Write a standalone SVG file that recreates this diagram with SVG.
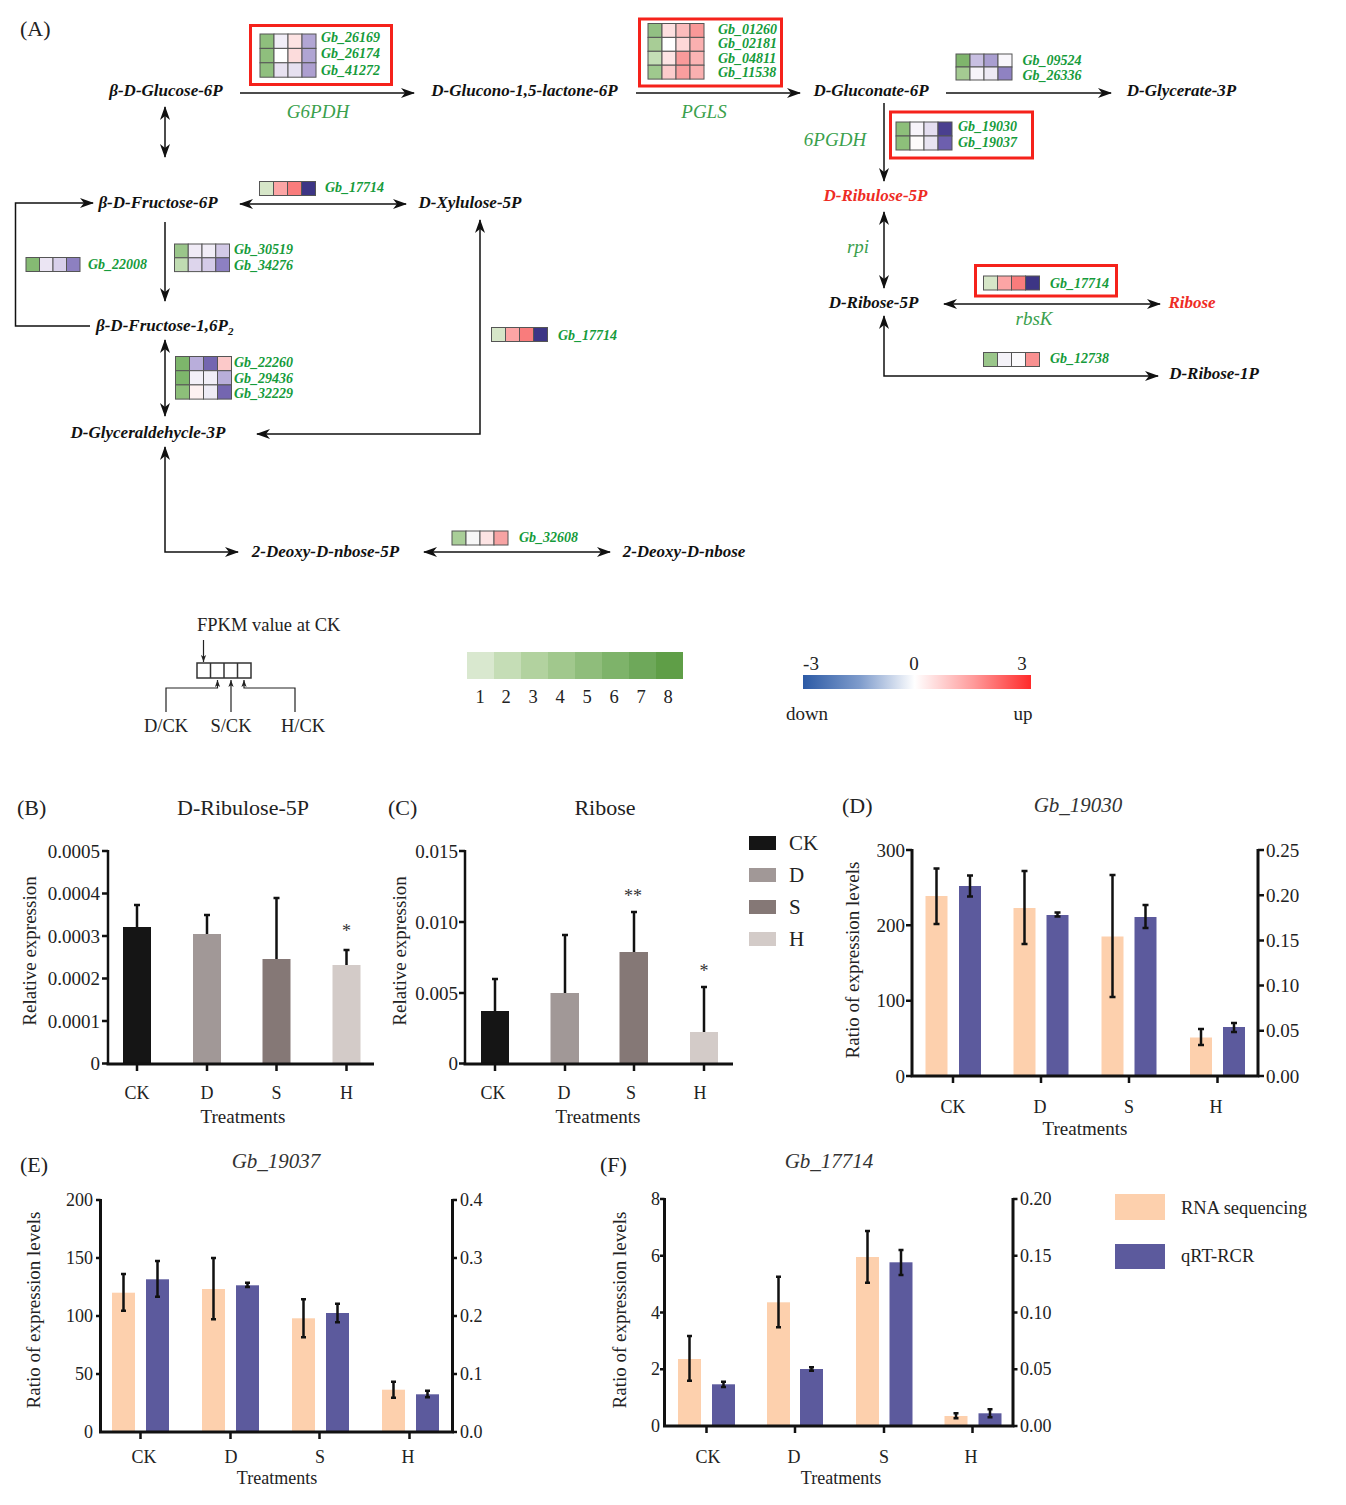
<svg xmlns="http://www.w3.org/2000/svg" width="1346" height="1505" viewBox="0 0 1346 1505">
<defs>
<style>
text{font-family:"Liberation Serif","Times New Roman",serif}
.node{font-weight:bold;font-style:italic;font-size:17px;fill:#111;text-anchor:middle}
.red{fill:#ee2b24}
.gene{font-weight:bold;font-style:italic;font-size:14px;fill:#169b3b}
.enz{font-style:italic;font-size:19px;fill:#3a9f4c;text-anchor:middle}
.ln{stroke:#111;stroke-width:1.5;fill:none}
.hm rect{stroke:#555;stroke-width:1}
.box{fill:none;stroke:#f5221b;stroke-width:3}
.lg{font-size:19px;fill:#222}
.tk{font-size:19px;fill:#222}
.ax{stroke:#111;stroke-width:2.5;fill:none}
.err{stroke:#111;stroke-width:2.5;fill:none}
.or{fill:#fdd0ad}
.bl{fill:#5c5a9d}
</style>
<marker id="ah" viewBox="0 0 14 10" refX="13" refY="5" markerWidth="14" markerHeight="10" markerUnits="userSpaceOnUse" orient="auto-start-reverse">
<path d="M0,0 L14,5 L0,10 L4,5 z" fill="#111"/>
</marker>
<marker id="sa" viewBox="0 0 8 6" refX="8" refY="3" markerWidth="7" markerHeight="6" markerUnits="userSpaceOnUse" orient="auto">
<path d="M0,0 L8,3 L0,6 L2,3 z" fill="#222"/>
</marker>
<linearGradient id="rb" x1="0" y1="0" x2="1" y2="0">
<stop offset="0" stop-color="#2c5aa5"/>
<stop offset="0.25" stop-color="#7f9ccc"/>
<stop offset="0.49" stop-color="#ffffff"/>
<stop offset="0.75" stop-color="#ff9a9a"/>
<stop offset="1" stop-color="#ff2a2a"/>
</linearGradient>
</defs>
<rect width="1346" height="1505" fill="#fff"/>

<text x="20" y="36" style="font-size:22px;fill:#222">(A)</text>

<g id="connectors">
<line class="ln" x1="240" y1="93" x2="414" y2="93" marker-end="url(#ah)"/>
<line class="ln" x1="636" y1="93" x2="800" y2="93" marker-end="url(#ah)"/>
<line class="ln" x1="946" y1="93" x2="1111" y2="93" marker-end="url(#ah)"/>
<line class="ln" x1="165" y1="107" x2="165" y2="157" marker-start="url(#ah)" marker-end="url(#ah)"/>
<line class="ln" x1="240" y1="204" x2="406" y2="204" marker-start="url(#ah)" marker-end="url(#ah)"/>
<line class="ln" x1="165" y1="222" x2="165" y2="301" marker-end="url(#ah)"/>
<polyline class="ln" points="90,326 15.5,326 15.5,203 93,203" marker-end="url(#ah)"/>
<line class="ln" x1="165" y1="340" x2="165" y2="416" marker-start="url(#ah)" marker-end="url(#ah)"/>
<polyline class="ln" points="480,220 480,434 257,434" marker-start="url(#ah)" marker-end="url(#ah)"/>
<polyline class="ln" points="165,447 165,552 238,552" marker-start="url(#ah)" marker-end="url(#ah)"/>
<line class="ln" x1="424" y1="552" x2="610" y2="552" marker-start="url(#ah)" marker-end="url(#ah)"/>
<line class="ln" x1="884" y1="103" x2="884" y2="181" marker-end="url(#ah)"/>
<line class="ln" x1="884" y1="212" x2="884" y2="288" marker-start="url(#ah)" marker-end="url(#ah)"/>
<line class="ln" x1="944" y1="304" x2="1160" y2="304" marker-start="url(#ah)" marker-end="url(#ah)"/>
<polyline class="ln" points="884,316 884,376 1158,376" marker-start="url(#ah)" marker-end="url(#ah)"/>
</g>

<g id="n-glucose6p"><text class="node" x="166" y="96">β-D-Glucose-6P</text></g>
<g id="n-glucono"><text class="node" x="524.5" y="96">D-Glucono-1,5-lactone-6P</text></g>
<g id="n-gluconate"><text class="node" x="871" y="96">D-Gluconate-6P</text></g>
<g id="n-glycerate"><text class="node" x="1181.5" y="96">D-Glycerate-3P</text></g>
<g id="n-fructose6p"><text class="node" x="158" y="208">β-D-Fructose-6P</text></g>
<g id="n-xylulose"><text class="node" x="470" y="208">D-Xylulose-5P</text></g>
<g id="n-ribulose"><text class="node red" x="875.5" y="200.5">D-Ribulose-5P</text></g>
<g id="n-fructose16p"><text class="node" x="96" y="330.5" style="text-anchor:start">β-D-Fructose-1,6P<tspan dy="4" style="font-size:11px">2</tspan></text></g>
<g id="n-ribose5p"><text class="node" x="873.5" y="307.5">D-Ribose-5P</text></g>
<g id="n-ribose"><text class="node red" x="1192" y="307.5">Ribose</text></g>
<g id="n-ribose1p"><text class="node" x="1214" y="378.5">D-Ribose-1P</text></g>
<g id="n-glyceraldehyde"><text class="node" x="148" y="437.5">D-Glyceraldehycle-3P</text></g>
<g id="n-deoxy5p"><text class="node" x="325.5" y="556.5">2-Deoxy-D-nbose-5P</text></g>
<g id="n-deoxy"><text class="node" x="684" y="556.5">2-Deoxy-D-nbose</text></g>

<g id="enzymes">
<text class="enz" x="318" y="117.5">G6PDH</text>
<text class="enz" x="704" y="117.5">PGLS</text>
<text class="enz" x="835" y="145.5">6PGDH</text>
<text class="enz" x="858" y="253">rpi</text>
<text class="enz" x="1034" y="325">rbsK</text>
</g>

<g id="hm-g6pdh">
<rect class="box" x="250.5" y="25.5" width="141" height="59"/>
<g class="hm" transform="translate(260,34)">
<rect x="0" y="0" width="14" height="14.4" fill="#8fbf7d"/><rect x="14" y="0" width="14" height="14.4" fill="#f2eef8"/><rect x="28" y="0" width="14" height="14.4" fill="#fde3e3"/><rect x="42" y="0" width="14" height="14.4" fill="#b2a6d4"/>
<rect x="0" y="14.4" width="14" height="14.4" fill="#8fbf7d"/><rect x="14" y="14.4" width="14" height="14.4" fill="#ffffff"/><rect x="28" y="14.4" width="14" height="14.4" fill="#fcdcdc"/><rect x="42" y="14.4" width="14" height="14.4" fill="#b0a5d3"/>
<rect x="0" y="28.8" width="14" height="14.4" fill="#90c07f"/><rect x="14" y="28.8" width="14" height="14.4" fill="#e8e2f1"/><rect x="28" y="28.8" width="14" height="14.4" fill="#e6e0f0"/><rect x="42" y="28.8" width="14" height="14.4" fill="#ad9fd0"/>
</g>
<text class="gene" x="321" y="41.5">Gb_26169</text>
<text class="gene" x="321" y="58">Gb_26174</text>
<text class="gene" x="321" y="74.5">Gb_41272</text>
</g>

<g id="hm-pgls">
<rect class="box" x="639.5" y="19" width="142" height="67"/>
<g class="hm" transform="translate(648,23.5)">
<rect x="0" y="0" width="14" height="13.9" fill="#92c083"/><rect x="14" y="0" width="14" height="13.9" fill="#fde0e0"/><rect x="28" y="0" width="14" height="13.9" fill="#fbbcbc"/><rect x="42" y="0" width="14" height="13.9" fill="#f99898"/>
<rect x="0" y="13.9" width="14" height="13.9" fill="#a8cd96"/><rect x="14" y="13.9" width="14" height="13.9" fill="#ffffff"/><rect x="28" y="13.9" width="14" height="13.9" fill="#fdd8d8"/><rect x="42" y="13.9" width="14" height="13.9" fill="#fbb0b0"/>
<rect x="0" y="27.8" width="14" height="13.9" fill="#c4deb6"/><rect x="14" y="27.8" width="14" height="13.9" fill="#fde4e4"/><rect x="28" y="27.8" width="14" height="13.9" fill="#f99a9a"/><rect x="42" y="27.8" width="14" height="13.9" fill="#fbb4b4"/>
<rect x="0" y="41.7" width="14" height="13.9" fill="#9fc98e"/><rect x="14" y="41.7" width="14" height="13.9" fill="#fccccc"/><rect x="28" y="41.7" width="14" height="13.9" fill="#f99e9e"/><rect x="42" y="41.7" width="14" height="13.9" fill="#fab0b0"/>
</g>
<text class="gene" x="718" y="33.5">Gb_01260</text>
<text class="gene" x="718" y="48">Gb_02181</text>
<text class="gene" x="718" y="62.5">Gb_04811</text>
<text class="gene" x="718" y="77">Gb_11538</text>
</g>

<g id="hm-glycerate">
<g class="hm" transform="translate(956,54)">
<rect x="0" y="0" width="14" height="13" fill="#7fb56c"/><rect x="14" y="0" width="14" height="13" fill="#c8bfe2"/><rect x="28" y="0" width="14" height="13" fill="#a99ed0"/><rect x="42" y="0" width="14" height="13" fill="#f8f6fb"/>
<rect x="0" y="13" width="14" height="13" fill="#a4cb92"/><rect x="14" y="13" width="14" height="13" fill="#f7f4fa"/><rect x="28" y="13" width="14" height="13" fill="#ede9f4"/><rect x="42" y="13" width="14" height="13" fill="#8f82c2"/>
</g>
<text class="gene" x="1022.5" y="64.5">Gb_09524</text>
<text class="gene" x="1022.5" y="79.5">Gb_26336</text>
</g>

<g id="hm-6pgdh">
<rect class="box" x="890.5" y="112" width="142" height="46"/>
<g class="hm" transform="translate(896,122)">
<rect x="0" y="0" width="14" height="14" fill="#8dbf7a"/><rect x="14" y="0" width="14" height="14" fill="#f7f4fa"/><rect x="28" y="0" width="14" height="14" fill="#e4def0"/><rect x="42" y="0" width="14" height="14" fill="#4a3f8f"/>
<rect x="0" y="14" width="14" height="14" fill="#8dbf7a"/><rect x="14" y="14" width="14" height="14" fill="#fdfbfb"/><rect x="28" y="14" width="14" height="14" fill="#e8e4f1"/><rect x="42" y="14" width="14" height="14" fill="#6d5fae"/>
</g>
<text class="gene" x="958" y="130.5">Gb_19030</text>
<text class="gene" x="958" y="147">Gb_19037</text>
</g>

<g id="hm-17714a">
<g class="hm" transform="translate(259.5,181.5)">
<rect x="0" y="0" width="14" height="14" fill="#d6e6c8"/><rect x="14" y="0" width="14" height="14" fill="#fca5a5"/><rect x="28" y="0" width="14" height="14" fill="#f97c7c"/><rect x="42" y="0" width="14" height="14" fill="#3d3585"/>
</g>
<text class="gene" x="325" y="191.5">Gb_17714</text>
</g>

<g id="hm-22008">
<g class="hm" transform="translate(26,257.5)">
<rect x="0" y="0" width="13.5" height="14" fill="#85ba73"/><rect x="13.5" y="0" width="13.5" height="14" fill="#ebe5f3"/><rect x="27" y="0" width="13.5" height="14" fill="#d8d0ea"/><rect x="40.5" y="0" width="13.5" height="14" fill="#8d80c0"/>
</g>
<text class="gene" x="88" y="269">Gb_22008</text>
</g>

<g id="hm-30519">
<g class="hm" transform="translate(174.5,244)">
<rect x="0" y="0" width="13.75" height="13.8" fill="#9ac68a"/><rect x="13.75" y="0" width="13.75" height="13.8" fill="#f0ebf6"/><rect x="27.5" y="0" width="13.75" height="13.8" fill="#f1edf7"/><rect x="41.25" y="0" width="13.75" height="13.8" fill="#d2c9e6"/>
<rect x="0" y="13.8" width="13.75" height="13.8" fill="#c0dcb2"/><rect x="13.75" y="13.8" width="13.75" height="13.8" fill="#ddd5ec"/><rect x="27.5" y="13.8" width="13.75" height="13.8" fill="#d4cbe8"/><rect x="41.25" y="13.8" width="13.75" height="13.8" fill="#8d80c2"/>
</g>
<text class="gene" x="234" y="254">Gb_30519</text>
<text class="gene" x="234" y="269.5">Gb_34276</text>
</g>

<g id="hm-22260">
<g class="hm" transform="translate(175.5,356.5)">
<rect x="0" y="0" width="14" height="14.2" fill="#7db66b"/><rect x="14" y="0" width="14" height="14.2" fill="#b9aedb"/><rect x="28" y="0" width="14" height="14.2" fill="#7466b0"/><rect x="42" y="0" width="14" height="14.2" fill="#fcc9c9"/>
<rect x="0" y="14.2" width="14" height="14.2" fill="#7db66b"/><rect x="14" y="14.2" width="14" height="14.2" fill="#f3f0f8"/><rect x="28" y="14.2" width="14" height="14.2" fill="#f1eef7"/><rect x="42" y="14.2" width="14" height="14.2" fill="#b8aed9"/>
<rect x="0" y="28.4" width="14" height="14.2" fill="#8dbf7a"/><rect x="14" y="28.4" width="14" height="14.2" fill="#fdf1f1"/><rect x="28" y="28.4" width="14" height="14.2" fill="#eeebf5"/><rect x="42" y="28.4" width="14" height="14.2" fill="#7466b0"/>
</g>
<text class="gene" x="234" y="366.5">Gb_22260</text>
<text class="gene" x="234" y="382.5">Gb_29436</text>
<text class="gene" x="234" y="397.5">Gb_32229</text>
</g>

<g id="hm-17714b">
<g class="hm" transform="translate(491.5,327.5)">
<rect x="0" y="0" width="14" height="14" fill="#d6e6c8"/><rect x="14" y="0" width="14" height="14" fill="#fca5a5"/><rect x="28" y="0" width="14" height="14" fill="#f97c7c"/><rect x="42" y="0" width="14" height="14" fill="#3d3585"/>
</g>
<text class="gene" x="558" y="339.5">Gb_17714</text>
</g>

<g id="hm-17714c">
<rect class="box" x="975.5" y="265.5" width="141" height="30.5"/>
<g class="hm" transform="translate(983.5,276)">
<rect x="0" y="0" width="14" height="14" fill="#d6e6c8"/><rect x="14" y="0" width="14" height="14" fill="#fca5a5"/><rect x="28" y="0" width="14" height="14" fill="#f97c7c"/><rect x="42" y="0" width="14" height="14" fill="#3d3585"/>
</g>
<text class="gene" x="1050" y="288">Gb_17714</text>
</g>

<g id="hm-12738">
<g class="hm" transform="translate(983.5,352.5)">
<rect x="0" y="0" width="14" height="14" fill="#9ac68a"/><rect x="14" y="0" width="14" height="14" fill="#f4f2f8"/><rect x="28" y="0" width="14" height="14" fill="#fbfafc"/><rect x="42" y="0" width="14" height="14" fill="#f89090"/>
</g>
<text class="gene" x="1050" y="363">Gb_12738</text>
</g>

<g id="hm-32608">
<g class="hm" transform="translate(452,531)">
<rect x="0" y="0" width="14" height="14" fill="#a9ce98"/><rect x="14" y="0" width="14" height="14" fill="#f7f7f7"/><rect x="28" y="0" width="14" height="14" fill="#fde4e4"/><rect x="42" y="0" width="14" height="14" fill="#f7a3a3"/>
</g>
<text class="gene" x="519" y="541.5">Gb_32608</text>
</g>

<g id="legend-fpkm">
<text class="lg" x="197" y="631" style="font-size:18.5px">FPKM value at CK</text>
<line x1="203.5" y1="640" x2="203.5" y2="662" stroke="#222" stroke-width="1.2" marker-end="url(#sa)"/>
<g fill="none" stroke="#333" stroke-width="1.5">
<rect x="197" y="663" width="54" height="15"/>
<line x1="210.5" y1="663" x2="210.5" y2="678"/>
<line x1="224" y1="663" x2="224" y2="678"/>
<line x1="237.5" y1="663" x2="237.5" y2="678"/>
</g>
<polyline points="166,712 166,688 217.5,688 217.5,680" fill="none" stroke="#222" stroke-width="1.2" marker-end="url(#sa)"/>
<line x1="231" y1="712" x2="231" y2="680" stroke="#222" stroke-width="1.2" marker-end="url(#sa)"/>
<polyline points="295,712 295,688 244,688 244,680" fill="none" stroke="#222" stroke-width="1.2" marker-end="url(#sa)"/>
<text class="lg" x="166" y="732" style="text-anchor:middle;font-size:18.5px">D/CK</text>
<text class="lg" x="231" y="732" style="text-anchor:middle;font-size:18.5px">S/CK</text>
<text class="lg" x="303" y="732" style="text-anchor:middle;font-size:18.5px">H/CK</text>
</g>

<g id="legend-green">
<rect x="467" y="652" width="27" height="27" fill="#d9e8cf"/>
<rect x="494" y="652" width="27" height="27" fill="#c5ddb6"/>
<rect x="521" y="652" width="27" height="27" fill="#b2d29f"/>
<rect x="548" y="652" width="27" height="27" fill="#a1c88d"/>
<rect x="575" y="652" width="27" height="27" fill="#8fbd7b"/>
<rect x="602" y="652" width="27" height="27" fill="#7eb36a"/>
<rect x="629" y="652" width="27" height="27" fill="#6ea85a"/>
<rect x="656" y="652" width="27" height="27" fill="#5f9e47"/>
<g class="lg" style="text-anchor:middle;font-size:18.5px">
<text x="480" y="703">1</text><text x="506" y="703">2</text><text x="533" y="703">3</text><text x="560" y="703">4</text>
<text x="587" y="703">5</text><text x="614" y="703">6</text><text x="641" y="703">7</text><text x="668" y="703">8</text>
</g>
</g>

<g id="legend-redblue">
<rect x="803" y="675" width="228" height="14" fill="url(#rb)"/>
<g class="lg" style="text-anchor:middle">
<text x="811" y="670">-3</text><text x="914" y="670">0</text><text x="1022" y="670">3</text>
<text x="807" y="720">down</text><text x="1023" y="720">up</text>
</g>
</g>

<!-- Panel B -->
<g id="chart-b">
<text x="17" y="815" style="font-size:22px;fill:#222">(B)</text>
<text x="243" y="815" style="font-size:22px;fill:#222;text-anchor:middle">D-Ribulose-5P</text>
<text transform="translate(36,951) rotate(-90)" style="font-size:19px;fill:#222;text-anchor:middle">Relative expression</text>
<rect x="123" y="927" width="28" height="137" fill="#151515"/>
<rect x="193" y="934" width="28" height="130" fill="#a19897"/>
<rect x="262.5" y="959" width="28" height="105" fill="#857876"/>
<rect x="332.5" y="965" width="28" height="99" fill="#d3cbc8"/>
<g class="err">
<path d="M137,927 V905 M134,905 H140"/>
<path d="M207,934 V915 M204,915 H210"/>
<path d="M276.5,959 V898 M273.5,898 H279.5"/>
<path d="M346.5,965 V950 M343.5,950 H349.5"/>
</g>
<text x="346.5" y="937" style="font-size:18px;fill:#333;text-anchor:middle">*</text>
<path class="ax" d="M108,850 V1064"/>
<path d="M106.5,1064 H374" stroke="#111" stroke-width="3" fill="none"/>
<path class="ax" d="M102,851 H108 M102,893.5 H108 M102,936 H108 M102,978.5 H108 M102,1021 H108 M102,1063.5 H108 M137,1064 V1071 M207,1064 V1071 M276.5,1064 V1071 M346.5,1064 V1071"/>
<g class="tk" style="text-anchor:end">
<text x="100" y="857.5">0.0005</text><text x="100" y="900">0.0004</text><text x="100" y="942.5">0.0003</text>
<text x="100" y="985">0.0002</text><text x="100" y="1027.5">0.0001</text><text x="100" y="1070">0</text>
</g>
<g class="tk" style="text-anchor:middle;font-size:18px">
<text x="137" y="1099">CK</text><text x="207" y="1099">D</text><text x="276.5" y="1099">S</text><text x="346.5" y="1099">H</text>
</g>
<text x="243" y="1123" class="tk" style="text-anchor:middle">Treatments</text>
</g>

<!-- Panel C -->
<g id="chart-c">
<text x="388" y="815" style="font-size:22px;fill:#222">(C)</text>
<text x="605" y="815" style="font-size:22px;fill:#222;text-anchor:middle">Ribose</text>
<text transform="translate(406,951) rotate(-90)" style="font-size:19px;fill:#222;text-anchor:middle">Relative expression</text>
<rect x="481" y="1011" width="28" height="53" fill="#151515"/>
<rect x="550.5" y="993" width="28.5" height="71" fill="#a19897"/>
<rect x="619.5" y="952" width="28.5" height="112" fill="#857876"/>
<rect x="690" y="1032" width="28" height="32" fill="#d3cbc8"/>
<g class="err">
<path d="M495,1011 V979 M492,979 H498"/>
<path d="M565,993 V935 M562,935 H568"/>
<path d="M634,952 V912 M631,912 H637"/>
<path d="M704,1032 V987 M701,987 H707"/>
</g>
<text x="633" y="902" style="font-size:18px;fill:#333;text-anchor:middle">**</text>
<text x="704" y="977" style="font-size:18px;fill:#333;text-anchor:middle">*</text>
<path class="ax" d="M465,850 V1064"/>
<path d="M463.5,1064 H733" stroke="#111" stroke-width="3" fill="none"/>
<path class="ax" d="M459,851 H465 M459,922 H465 M459,993 H465 M459,1063.5 H465 M495,1064 V1071 M565,1064 V1071 M634,1064 V1071 M704,1064 V1071"/>
<g class="tk" style="text-anchor:end">
<text x="458" y="857.5">0.015</text><text x="458" y="928.5">0.010</text><text x="458" y="999.5">0.005</text><text x="458" y="1070">0</text>
</g>
<g class="tk" style="text-anchor:middle;font-size:18px">
<text x="493" y="1099">CK</text><text x="564" y="1099">D</text><text x="631" y="1099">S</text><text x="700" y="1099">H</text>
</g>
<text x="598" y="1123" class="tk" style="text-anchor:middle">Treatments</text>
</g>

<g id="legend-bc">
<rect x="749" y="836" width="27" height="14" fill="#151515"/>
<rect x="749" y="868" width="27" height="14" fill="#a19897"/>
<rect x="749" y="900" width="27" height="14" fill="#857876"/>
<rect x="749" y="932" width="27" height="14" fill="#d3cbc8"/>
<g style="font-size:21px;fill:#222">
<text x="789" y="850">CK</text><text x="789" y="882">D</text><text x="789" y="914">S</text><text x="789" y="946">H</text>
</g>
</g>

<!-- Panel D -->
<g id="chart-d">
<text x="842" y="813" style="font-size:22px;fill:#222">(D)</text>
<text x="1078" y="812" style="font-size:21px;font-style:italic;fill:#333;text-anchor:middle">Gb_19030</text>
<text transform="translate(859,960) rotate(-90)" style="font-size:19px;fill:#222;text-anchor:middle">Ratio of expression levels</text>
<rect class="or" x="925.5" y="896" width="22" height="180"/>
<rect class="bl" x="959" y="886" width="22" height="190"/>
<rect class="or" x="1013.5" y="908" width="22" height="168"/>
<rect class="bl" x="1046.5" y="915" width="22" height="161"/>
<rect class="or" x="1101.5" y="936.5" width="22" height="139.5"/>
<rect class="bl" x="1134.5" y="917" width="22" height="159"/>
<rect class="or" x="1190" y="1037.5" width="22" height="38.5"/>
<rect class="bl" x="1223" y="1027" width="22" height="49"/>
<g class="err">
<path d="M936.5,868.5 V924 M933.5,868.5 H939.5 M933.5,924 H939.5"/>
<path d="M970,875.5 V896.5 M967,875.5 H973 M967,896.5 H973"/>
<path d="M1024.5,871 V944 M1021.5,871 H1027.5 M1021.5,944 H1027.5"/>
<path d="M1057.5,912.5 V916.5 M1054.5,912.5 H1060.5 M1054.5,916.5 H1060.5"/>
<path d="M1112.5,875 V997 M1109.5,875 H1115.5 M1109.5,997 H1115.5"/>
<path d="M1145.5,905 V928 M1142.5,905 H1148.5 M1142.5,928 H1148.5"/>
<path d="M1201,1029 V1045 M1198,1029 H1204 M1198,1045 H1204"/>
<path d="M1234,1023 V1032 M1231,1023 H1237 M1231,1032 H1237"/>
</g>
<path d="M912,849 V1077 M910.5,1076 H1259.5 M1258,849 V1077" stroke="#111" stroke-width="3" fill="none"/>
<path class="ax" d="M906,850 H912 M906,925.3 H912 M906,1000.7 H912 M906,1076 H912 M1258,850 H1264 M1258,895.2 H1264 M1258,940.4 H1264 M1258,985.6 H1264 M1258,1030.8 H1264 M1258,1076 H1264 M953,1076 V1083 M1041,1076 V1083 M1129,1076 V1083 M1217.5,1076 V1083"/>
<g class="tk" style="text-anchor:end">
<text x="905" y="856.5">300</text><text x="905" y="931.8">200</text><text x="905" y="1007.2">100</text><text x="905" y="1082.5">0</text>
</g>
<g class="tk">
<text x="1266" y="856.5">0.25</text><text x="1266" y="901.7">0.20</text><text x="1266" y="946.9">0.15</text>
<text x="1266" y="992.1">0.10</text><text x="1266" y="1037.3">0.05</text><text x="1266" y="1082.5">0.00</text>
</g>
<g class="tk" style="text-anchor:middle;font-size:18px">
<text x="953" y="1113">CK</text><text x="1040" y="1113">D</text><text x="1129" y="1113">S</text><text x="1216" y="1113">H</text>
</g>
<text x="1085" y="1135" class="tk" style="text-anchor:middle">Treatments</text>
</g>

<!-- Panel E -->
<g id="chart-e">
<text x="20" y="1172" style="font-size:22px;fill:#222">(E)</text>
<text x="276" y="1168" style="font-size:21px;font-style:italic;fill:#333;text-anchor:middle">Gb_19037</text>
<text transform="translate(40,1310) rotate(-90)" style="font-size:19px;fill:#222;text-anchor:middle">Ratio of expression levels</text>
<rect class="or" x="112" y="1292.7" width="23" height="139.3"/>
<rect class="bl" x="146" y="1279.3" width="23" height="152.7"/>
<rect class="or" x="202" y="1289" width="23" height="143"/>
<rect class="bl" x="236" y="1285.3" width="23" height="146.7"/>
<rect class="or" x="292" y="1318.3" width="23" height="113.7"/>
<rect class="bl" x="326" y="1313" width="23" height="119"/>
<rect class="or" x="382" y="1389.7" width="23" height="42.3"/>
<rect class="bl" x="416" y="1394.3" width="23" height="37.7"/>
<g class="err">
<path d="M123.5,1274 V1310.7 M121,1274 H126 M121,1310.7 H126"/>
<path d="M157.5,1261 V1296.7 M155,1261 H160 M155,1296.7 H160"/>
<path d="M213.5,1258 V1319.3 M211,1258 H216 M211,1319.3 H216"/>
<path d="M247.5,1282.7 V1287 M245,1282.7 H250 M245,1287 H250"/>
<path d="M303.5,1299.3 V1337.3 M301,1299.3 H306 M301,1337.3 H306"/>
<path d="M337.5,1303.7 V1322.3 M335,1303.7 H340 M335,1322.3 H340"/>
<path d="M393.5,1381.7 V1397.7 M391,1381.7 H396 M391,1397.7 H396"/>
<path d="M427.5,1390.7 V1397.3 M425,1390.7 H430 M425,1397.3 H430"/>
</g>
<path d="M100.5,1199 V1433 M99,1432 H454 M452.5,1199 V1433" stroke="#111" stroke-width="3" fill="none"/>
<path class="ax" d="M96,1200 H100.5 M96,1258 H100.5 M96,1316 H100.5 M96,1374 H100.5 M452.5,1200 H457 M452.5,1258 H457 M452.5,1316 H457 M452.5,1374 H457 M452.5,1432 H457 M140.5,1432 V1439 M230.5,1432 V1439 M319.5,1432 V1439 M409.5,1432 V1439"/>
<g class="tk" style="text-anchor:end;font-size:18px">
<text x="93" y="1206">200</text><text x="93" y="1264">150</text><text x="93" y="1322">100</text><text x="93" y="1380">50</text><text x="93" y="1438">0</text>
</g>
<g class="tk" style="font-size:18px">
<text x="460" y="1206">0.4</text><text x="460" y="1264">0.3</text><text x="460" y="1322">0.2</text><text x="460" y="1380">0.1</text><text x="460" y="1438">0.0</text>
</g>
<g class="tk" style="text-anchor:middle;font-size:18px">
<text x="144" y="1463">CK</text><text x="231" y="1463">D</text><text x="320" y="1463">S</text><text x="408" y="1463">H</text>
</g>
<text x="277" y="1484" class="tk" style="text-anchor:middle;font-size:18px">Treatments</text>
</g>

<!-- Panel F -->
<g id="chart-f">
<text x="600" y="1172" style="font-size:22px;fill:#222">(F)</text>
<text x="829" y="1168" style="font-size:21px;font-style:italic;fill:#333;text-anchor:middle">Gb_17714</text>
<text transform="translate(626,1310) rotate(-90)" style="font-size:19px;fill:#222;text-anchor:middle">Ratio of expression levels</text>
<rect class="or" x="678" y="1359" width="23" height="67"/>
<rect class="bl" x="712" y="1384.3" width="23" height="41.7"/>
<rect class="or" x="767" y="1302.3" width="23" height="123.7"/>
<rect class="bl" x="800" y="1369" width="23" height="57"/>
<rect class="or" x="856" y="1257" width="23" height="169"/>
<rect class="bl" x="889.5" y="1262.3" width="23" height="163.7"/>
<rect class="or" x="944.5" y="1416" width="23" height="10"/>
<rect class="bl" x="978.5" y="1413.3" width="23" height="12.7"/>
<g class="err">
<path d="M689.5,1336 V1380.7 M687,1336 H692 M687,1380.7 H692"/>
<path d="M723.5,1381.7 V1387 M721,1381.7 H726 M721,1387 H726"/>
<path d="M778.5,1276.7 V1327.3 M776,1276.7 H781 M776,1327.3 H781"/>
<path d="M811.5,1367.3 V1370.7 M809,1367.3 H814 M809,1370.7 H814"/>
<path d="M867.5,1231 V1282.7 M865,1231 H870 M865,1282.7 H870"/>
<path d="M901,1250 V1275 M898.5,1250 H903.5 M898.5,1275 H903.5"/>
<path d="M956,1413.3 V1418.3 M953.5,1413.3 H958.5 M953.5,1418.3 H958.5"/>
<path d="M990,1409.3 V1417.3 M987.5,1409.3 H992.5 M987.5,1417.3 H992.5"/>
</g>
<path d="M664.5,1198 V1427 M663,1426 H1014.5 M1013,1198 V1427" stroke="#111" stroke-width="3" fill="none"/>
<path class="ax" d="M660,1199 H664.5 M660,1255.75 H664.5 M660,1312.5 H664.5 M660,1369.25 H664.5 M1013,1199 H1017.5 M1013,1255.75 H1017.5 M1013,1312.5 H1017.5 M1013,1369.25 H1017.5 M1013,1426 H1017.5 M706.5,1426 V1433 M795,1426 V1433 M884,1426 V1433 M972.5,1426 V1433"/>
<g class="tk" style="text-anchor:end;font-size:18px">
<text x="660" y="1205">8</text><text x="660" y="1262">6</text><text x="660" y="1318.5">4</text><text x="660" y="1375">2</text><text x="660" y="1432">0</text>
</g>
<g class="tk" style="font-size:18px">
<text x="1020" y="1205">0.20</text><text x="1020" y="1262">0.15</text><text x="1020" y="1318.5">0.10</text><text x="1020" y="1375">0.05</text><text x="1020" y="1432">0.00</text>
</g>
<g class="tk" style="text-anchor:middle;font-size:18px">
<text x="708" y="1463">CK</text><text x="794" y="1463">D</text><text x="884" y="1463">S</text><text x="971" y="1463">H</text>
</g>
<text x="841" y="1484" class="tk" style="text-anchor:middle;font-size:18px">Treatments</text>
</g>

<g id="legend-ef">
<rect class="or" x="1115" y="1194" width="50" height="26"/>
<rect class="bl" x="1115" y="1244" width="50" height="25"/>
<text x="1181" y="1214" style="font-size:18.5px;fill:#222">RNA sequencing</text>
<text x="1181" y="1262" style="font-size:18.5px;fill:#222">qRT-RCR</text>
</g>
</svg>
